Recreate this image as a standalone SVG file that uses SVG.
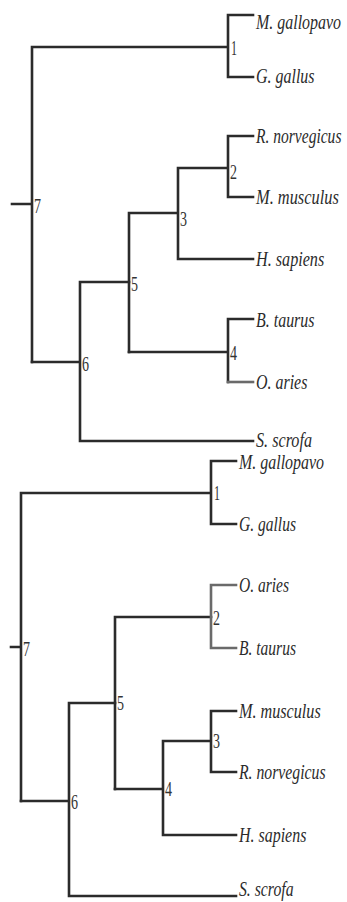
<svg xmlns="http://www.w3.org/2000/svg" width="347" height="902" viewBox="0 0 347 902">
<style>
.e{fill:none;stroke:#2b2b2b;stroke-width:2.6;stroke-linecap:square}
.g{stroke:#6a6a6a}
.lf{font-family:"Liberation Serif","Times New Roman",serif;font-style:italic;font-size:21px;fill:#2b2b2b}
.nd{font-family:"Liberation Serif","Times New Roman",serif;font-size:20px;fill:#333333}
</style>
<rect width="347" height="902" fill="#fff"/>
<g id="connectors">
<path class="e" d="M12,204H32M32,47V362M32,47H228M228,15V77M228,15H253M228,77H253"/>
<path class="e" d="M32,362H80M80,282V441M80,282H129M80,441H253"/>
<path class="e" d="M129,213V352M129,213H178M178,168V259M178,168H228M228,136V197M228,136H253M228,197H253M178,259H253"/>
<path class="e" d="M129,352H228M228,319V382M228,319H253"/>
<path class="e g" d="M228,382H253"/>
<path class="e" d="M11,647H21M21,493V801M21,493H211M211,461V524M211,461H236M211,524H236"/>
<path class="e" d="M21,801H69M69,703V896M69,703H115M69,896H236"/>
<path class="e" d="M115,617V789M115,617H211"/>
<path class="e g" d="M211,585V648M211,585H236M211,648H236"/>
<path class="e" d="M115,789H163M163,741V835M163,741H211M211,711V772M211,711H236M211,772H236M163,835H236"/>
</g>
<g id="top-tree">
<g id="t-n7"><text class="nd" x="34" y="213" textLength="7" lengthAdjust="spacingAndGlyphs">7</text></g>
<g id="t-n1"><text class="nd" x="231" y="55" textLength="6" lengthAdjust="spacingAndGlyphs">1</text></g>
<g id="t-n2"><text class="nd" x="230" y="179" textLength="7" lengthAdjust="spacingAndGlyphs">2</text></g>
<g id="t-n3"><text class="nd" x="180" y="226" textLength="7" lengthAdjust="spacingAndGlyphs">3</text></g>
<g id="t-n5"><text class="nd" x="131" y="291" textLength="7" lengthAdjust="spacingAndGlyphs">5</text></g>
<g id="t-n4"><text class="nd" x="230" y="360" textLength="7" lengthAdjust="spacingAndGlyphs">4</text></g>
<g id="t-n6"><text class="nd" x="82" y="371" textLength="7" lengthAdjust="spacingAndGlyphs">6</text></g>
<g id="t-mgal"><text class="lf" transform="translate(256,29) scale(0.76,1)">M. gallopavo</text></g>
<g id="t-ggal"><text class="lf" transform="translate(256,83) scale(0.76,1)">G. gallus</text></g>
<g id="t-rnor"><text class="lf" transform="translate(256,143) scale(0.74,1)">R. norvegicus</text></g>
<g id="t-mmus"><text class="lf" transform="translate(256,204) scale(0.78,1)">M. musculus</text></g>
<g id="t-hsap"><text class="lf" transform="translate(256,266) scale(0.77,1)">H. sapiens</text></g>
<g id="t-btau"><text class="lf" transform="translate(256,327) scale(0.76,1)">B. taurus</text></g>
<g id="t-oari"><text class="lf" transform="translate(256,389) scale(0.76,1)">O. aries</text></g>
<g id="t-sscr"><text class="lf" transform="translate(256,447) scale(0.77,1)">S. scrofa</text></g>
</g>
<g id="bottom-tree">
<g id="b-n7"><text class="nd" x="23" y="656" textLength="7" lengthAdjust="spacingAndGlyphs">7</text></g>
<g id="b-n1"><text class="nd" x="214" y="500" textLength="6" lengthAdjust="spacingAndGlyphs">1</text></g>
<g id="b-n2"><text class="nd" x="213" y="625" textLength="7" lengthAdjust="spacingAndGlyphs">2</text></g>
<g id="b-n5"><text class="nd" x="117" y="710" textLength="7" lengthAdjust="spacingAndGlyphs">5</text></g>
<g id="b-n3"><text class="nd" x="213" y="748" textLength="7" lengthAdjust="spacingAndGlyphs">3</text></g>
<g id="b-n4"><text class="nd" x="165" y="796" textLength="7" lengthAdjust="spacingAndGlyphs">4</text></g>
<g id="b-n6"><text class="nd" x="71" y="809" textLength="7" lengthAdjust="spacingAndGlyphs">6</text></g>
<g id="b-mgal"><text class="lf" transform="translate(239,469) scale(0.76,1)">M. gallopavo</text></g>
<g id="b-ggal"><text class="lf" transform="translate(239,531) scale(0.74,1)">G. gallus</text></g>
<g id="b-oari"><text class="lf" transform="translate(239,592) scale(0.74,1)">O. aries</text></g>
<g id="b-btau"><text class="lf" transform="translate(239,655) scale(0.74,1)">B. taurus</text></g>
<g id="b-mmus"><text class="lf" transform="translate(239,718) scale(0.77,1)">M. musculus</text></g>
<g id="b-rnor"><text class="lf" transform="translate(239,779) scale(0.75,1)">R. norvegicus</text></g>
<g id="b-hsap"><text class="lf" transform="translate(239,842) scale(0.76,1)">H. sapiens</text></g>
<g id="b-sscr"><text class="lf" transform="translate(239,896) scale(0.75,1)">S. scrofa</text></g>
</g>
</svg>
